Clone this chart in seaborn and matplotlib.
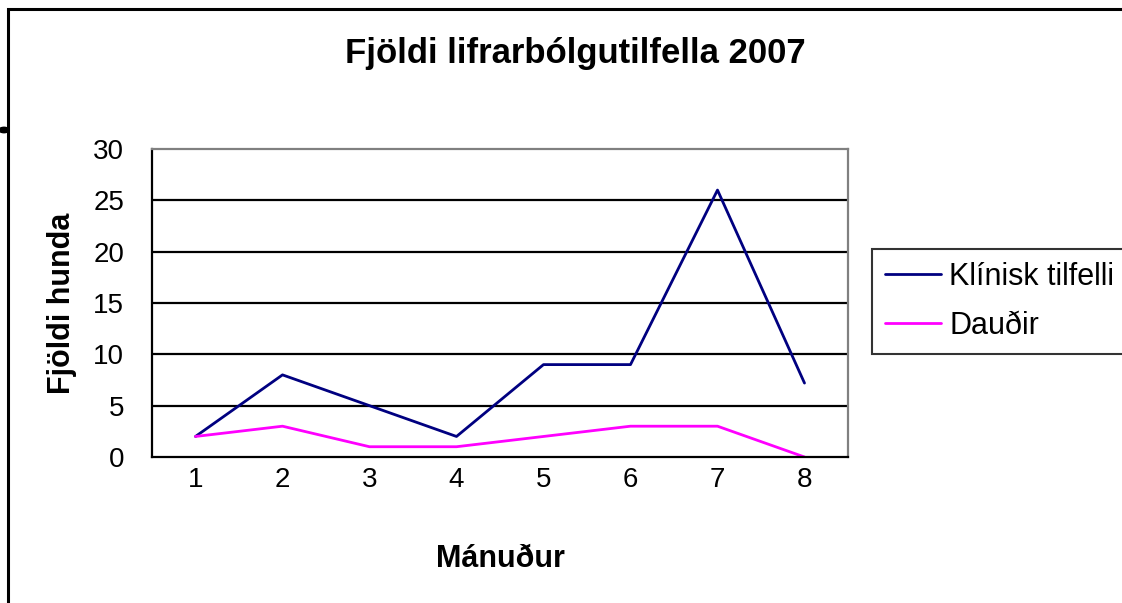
import numpy as np
import pandas as pd
import seaborn as sns
import matplotlib.pyplot as plt
from matplotlib.patches import Rectangle, Circle
from matplotlib.lines import Line2D

# Gögn
manudir = [1, 2, 3, 4, 5, 6, 7, 8]
klinisk = [2, 8, 5, 2, 9, 9, 26, 7.2]
daudir = [2, 3, 1, 1, 2, 3, 3, 0]
y_ticks = [0, 5, 10, 15, 20, 25, 30]

df = pd.DataFrame({
    "Mánuður": manudir * 2,
    "Fjöldi": klinisk + daudir,
    "Hópur": ["Klínisk tilfelli"] * len(manudir) + ["Dauðir"] * len(manudir),
})

sns.set_style("white")
plt.rcParams['font.family'] = ['Liberation Sans', 'DejaVu Sans']
plt.rcParams['text.color'] = 'black'
plt.rcParams['axes.labelcolor'] = 'black'
plt.rcParams['xtick.color'] = 'black'
plt.rcParams['ytick.color'] = 'black'

W, H = 1122, 603
fig = plt.figure(figsize=(W / 100, H / 100), dpi=100)
ax = fig.add_axes([152 / W, 1 - 457 / H, (848 - 152) / W, (457 - 149) / H])

sns.lineplot(data=df, x="Mánuður", y="Fjöldi", hue="Hópur",
             palette={"Klínisk tilfelli": "#000080", "Dauðir": "#FF00FF"},
             linewidth=2.0, ax=ax, legend=False)

ax.set_xlim(0.5, 8.5)
ax.set_ylim(0, 30)
ax.set_yticks(y_ticks)
ax.set_xticks(np.arange(0.5, 9.0, 1.0))
ax.set_xticklabels([])
ax.set_xticks(manudir, minor=True)
ax.set_xticklabels([str(m) for m in manudir], minor=True)
ax.tick_params(axis='x', which='major', direction='out', length=6, width=1.5)
ax.tick_params(axis='x', which='minor', length=0, labelsize=20, pad=7)
ax.tick_params(axis='y', direction='out', length=6, width=1.5, labelsize=20, pad=14)

for yv in y_ticks[1:-1]:
    ax.axhline(yv, color='black', linewidth=1.6, zorder=0)

for side in ['left', 'bottom']:
    ax.spines[side].set_color('black')
    ax.spines[side].set_linewidth(1.6)
for side in ['top', 'right']:
    ax.spines[side].set_color('#808080')
    ax.spines[side].set_linewidth(1.6)

ax.set_xlabel("Mánuður", fontsize=22, fontweight='bold', labelpad=37)
ax.set_ylabel("Fjöldi hunda", fontsize=22, fontweight='bold', labelpad=12)

fig.text(575 / W, 1 - 53 / H, "Fjöldi lifrarbólgutilfella 2007",
         ha='center', va='center', fontsize=25, fontweight='bold')

# Skýringar
handles = [Line2D([], [], color="#000080", linewidth=2.0),
           Line2D([], [], color="#FF00FF", linewidth=2.0)]
leg = fig.legend(handles, ["Klínisk tilfelli", "Dauðir"], loc='upper left',
                 bbox_to_anchor=(872 / W, 1 - 249 / H), fontsize=22,
                 frameon=True, fancybox=False, edgecolor='black',
                 handlelength=1.85, handletextpad=0.26, borderpad=0.42,
                 labelspacing=0.62, borderaxespad=0)
leg.get_frame().set_linewidth(1.5)

# Rammi utan um myndina
fig.patches.append(Rectangle((8 / W, -0.05), 1.1, 1 - 9 / H + 0.05,
                             transform=fig.transFigure, fill=False,
                             edgecolor='black', linewidth=2.2))
fig.patches.append(Circle((4 / W, 1 - 130 / H), 0.0045, transform=fig.transFigure,
                          color='black'))

fig.savefig("out.png", dpi=100)
plt.close()
